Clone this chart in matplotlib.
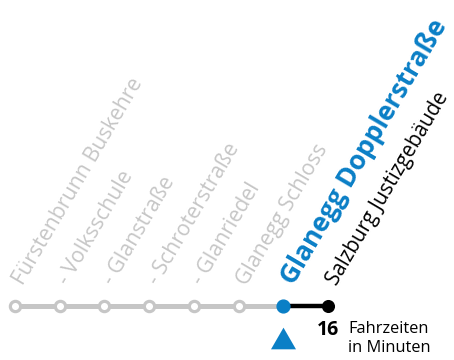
import matplotlib
matplotlib.use("Agg")
import matplotlib.pyplot as plt
from matplotlib.path import Path

# --- Daten ---
stops = [
    "Fürstenbrunn Buskehre",
    "- Volksschule",
    "- Glanstraße",
    "- Schroterstraße",
    "- Glanriedel",
    "Glanegg Schloss",
    "Glanegg Dopplerstraße",
    "Salzburg Justizgebäude",
]
current = 6          # Haltestelle mit Dreieck
travel_time = [16]   # Fahrzeit bis zur Endhaltestelle
time_label = "Fahrzeiten\nin Minuten"

# --- Stil ---
GRAY = "#c6c6c6"
BLUE = "#0a7fc6"
BLACK = "#000000"
FONT = ["Open Sans", "DejaVu Sans"]
ANGLE = 59.5
LINE_Y = 306

W, H = 454, 360
fig = plt.figure(figsize=(W / 100, H / 100), dpi=100)
ax = fig.add_axes([0, 0, 1, 1])
px = 44.71
ax.set_xlim(-15 / px, (W - 15) / px)
ax.set_ylim(H, 0)
ax.axis("off")

xs = list(range(len(stops)))
last = len(stops) - 1

# Linie
ax.plot(xs[:current + 1], [LINE_Y] * (current + 1), color=GRAY, lw=3.6,
        solid_capstyle="butt", zorder=1)
ax.plot(xs[current:], [LINE_Y] * (last - current + 1), color=BLACK, lw=3.2,
        solid_capstyle="butt", zorder=1)

# Haltestellen
ax.plot(xs[:current], [LINE_Y] * current, ls="none", marker="o", ms=7.4,
        mfc="white", mec=GRAY, mew=2.3, zorder=2)
ax.plot([xs[current]], [LINE_Y], ls="none", marker="o", ms=9.2,
        mfc=BLUE, mec=BLUE, zorder=3)
ax.plot([xs[last]], [LINE_Y], ls="none", marker="o", ms=8.4,
        mfc=BLACK, mec=BLACK, zorder=3)

# Dreieck unter aktueller Haltestelle
tri = Path([(-1, -0.866), (1, -0.866), (0, 0.866), (-1, -0.866)])
ax.plot([xs[current]], [LINE_Y + 31.5], ls="none", marker=tri, ms=18,
        mfc=BLUE, mec="none", zorder=3)

# Beschriftungen
for i, name in enumerate(stops):
    if i < current:
        kw = dict(color=GRAY, fontsize=15.3, fontweight="normal")
        dx = 0.19
    elif i == current:
        kw = dict(color=BLUE, fontsize=19, fontweight="bold")
        dx = 0.23
    else:
        kw = dict(color=BLACK, fontsize=14.8, fontweight="normal")
        dx = 0.2
    ax.text(i + dx, 286, name, rotation=ANGLE, rotation_mode="anchor",
            ha="left", va="baseline", family=FONT, **kw)

# Fahrzeit
ax.text(xs[last] - 0.25, 335, str(travel_time[0]), ha="left", va="baseline",
        fontsize=14, fontweight="bold", color=BLACK, family=FONT)
ax.text(xs[last] + 0.45, 321, time_label, ha="left", va="top",
        fontsize=11.8, color=BLACK, family=FONT, linespacing=1.25)

fig.savefig("out.png", dpi=100)
